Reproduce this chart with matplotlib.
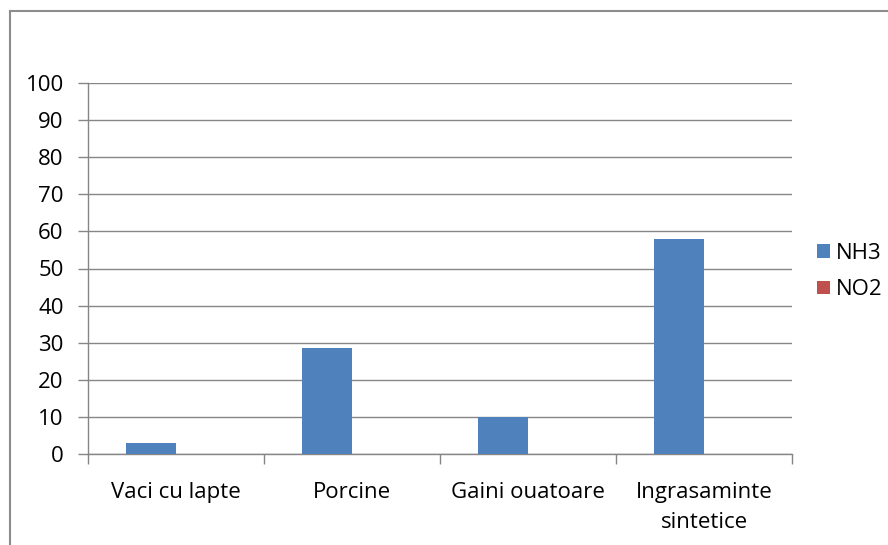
import numpy as np
import matplotlib.pyplot as plt
from matplotlib.lines import Line2D

# date
categorii = ['Vaci cu lapte', 'Porcine', 'Gaini ouatoare', 'Ingrasaminte\nsintetice']
nh3 = [3, 28.7, 10, 58]
no2 = [0, 0, 0, 0]
serii = ['NH3', 'NO2']
culori = ['#4F81BD', '#C0504D']

plt.rcParams['font.family'] = ['Open Sans', 'DejaVu Sans']

fig = plt.figure(figsize=(8.88, 5.45), dpi=100)
ax = fig.add_axes([88 / 888, 1 - 454 / 545, (792 - 88) / 888, (454 - 83) / 545])

x = np.arange(len(categorii))
w = 50 / 176
ax.bar(x - w / 2, nh3, w, color=culori[0], label=serii[0], zorder=3)
ax.bar(x + w / 2, no2, w, color=culori[1], label=serii[1], zorder=3)

ax.set_xlim(-0.5, len(categorii) - 0.5)
ax.set_ylim(0, 100)
ax.set_yticks(np.arange(0, 101, 10))
ax.yaxis.grid(True, color='#868686', linewidth=1.0, zorder=0)

ax.set_xticks(x)
ax.set_xticklabels(categorii, fontsize=16, linespacing=1.55)
ax.set_xticks(np.arange(-0.5, len(categorii)), minor=True)
ax.tick_params(axis='x', which='major', length=0, pad=20)
ax.tick_params(axis='x', which='minor', length=7, color='#868686', width=1.0)
ax.tick_params(axis='y', length=7, color='#868686', width=1.0, labelsize=16, pad=10.5)

for s in ['top', 'right']:
    ax.spines[s].set_visible(False)
for s in ['left', 'bottom']:
    ax.spines[s].set_color('#868686')
    ax.spines[s].set_linewidth(1.0)

ax.legend(loc='center left', bbox_to_anchor=(1.036, 0.492), frameon=False,
          fontsize=16, handlelength=0.55, handleheight=0.55,
          handletextpad=0.3, labelspacing=0.7, borderpad=0, borderaxespad=0)

# chenarul diagramei
fig.add_artist(Line2D([10 / 888, 1], [1 - 11 / 545, 1 - 11 / 545],
                      color='#8C8C8C', linewidth=1.5, transform=fig.transFigure))
fig.add_artist(Line2D([10 / 888, 10 / 888], [0, 1 - 11 / 545],
                      color='#8C8C8C', linewidth=1.5, transform=fig.transFigure))

fig.savefig('out.png', dpi=100)
